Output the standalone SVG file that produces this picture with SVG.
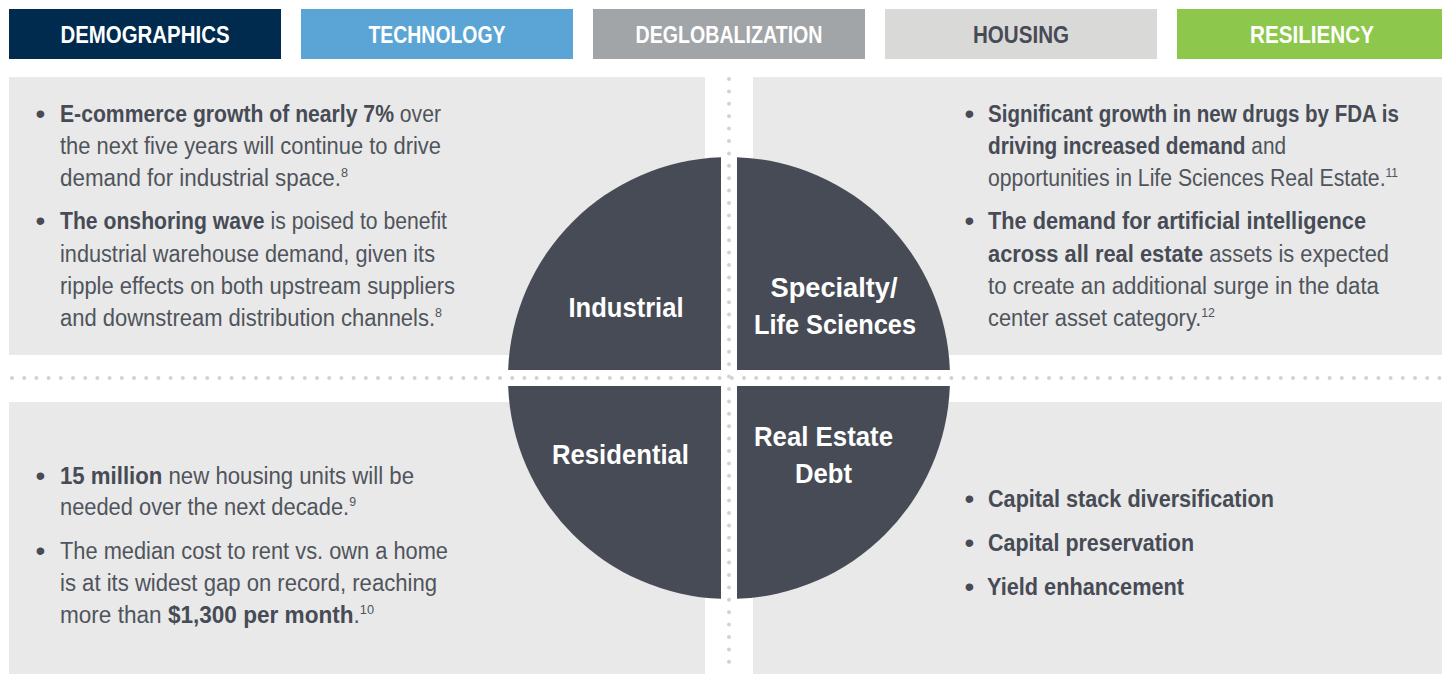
<svg xmlns="http://www.w3.org/2000/svg" width="1442" height="674" viewBox="0 0 1442 674">
<style>
text{font-family:"Liberation Sans",Arial,sans-serif}
.hdr{font-size:23px;font-weight:bold;fill:#fff;text-anchor:middle}
.panel{fill:#E8E9E8}
.quad{fill:#474B55}
.ql{font-size:28px;font-weight:bold;fill:#fff;text-anchor:middle}
.body{font-size:23px;fill:#50545C}
.b{font-weight:bold;fill:#474B55}
.bul{font-size:28px;fill:#474B55}
.sup{font-size:13px}
.dots{stroke:#D1D2D3;stroke-width:4;stroke-linecap:round;fill:none}
</style>
<rect width="1442" height="674" fill="#fff"/>
<g id="headers">
<g id="h-demographics"><rect x="9" y="9" width="272" height="50" fill="#002A4E"/><text class="hdr" x="145" y="42.5" textLength="169" lengthAdjust="spacingAndGlyphs">DEMOGRAPHICS</text></g>
<g id="h-technology"><rect x="301" y="9" width="272" height="50" fill="#5BA5D6"/><text class="hdr" x="437" y="42.5" textLength="137" lengthAdjust="spacingAndGlyphs">TECHNOLOGY</text></g>
<g id="h-deglobalization"><rect x="593" y="9" width="272" height="50" fill="#A2A5A8"/><text class="hdr" x="729" y="42.5" textLength="187" lengthAdjust="spacingAndGlyphs">DEGLOBALIZATION</text></g>
<g id="h-housing"><rect x="885" y="9" width="272" height="50" fill="#D9D9D8"/><text class="hdr" x="1021" y="42.5" style="fill:#474B55" textLength="96" lengthAdjust="spacingAndGlyphs">HOUSING</text></g>
<g id="h-resiliency"><rect x="1177" y="9" width="272" height="50" fill="#8DC74B"/><text class="hdr" x="1312" y="42.5" textLength="124" lengthAdjust="spacingAndGlyphs">RESILIENCY</text></g>
</g>
<g id="panels">
<rect class="panel" x="9" y="77" width="696" height="278"/>
<rect class="panel" x="753" y="77" width="689" height="278"/>
<rect class="panel" x="9" y="402" width="696" height="272"/>
<rect class="panel" x="753" y="402" width="689" height="272"/>
</g>
<g id="text-industrial">
<text class="bul" x="35.5" y="123">•</text>
<text class="body" x="60" y="122" textLength="381" lengthAdjust="spacingAndGlyphs"><tspan class="b">E-commerce growth of nearly 7%</tspan> over</text>
<text class="body" x="60" y="154" textLength="381" lengthAdjust="spacingAndGlyphs">the next five years will continue to drive</text>
<text class="body" x="60" y="186" textLength="288" lengthAdjust="spacingAndGlyphs">demand for industrial space.<tspan class="sup" dy="-9">8</tspan></text>
<text class="bul" x="35.5" y="230">•</text>
<text class="body" x="60" y="229" textLength="387" lengthAdjust="spacingAndGlyphs"><tspan class="b">The onshoring wave</tspan> is poised to benefit</text>
<text class="body" x="60" y="261.5" textLength="375" lengthAdjust="spacingAndGlyphs">industrial warehouse demand, given its</text>
<text class="body" x="60" y="293.5" textLength="395" lengthAdjust="spacingAndGlyphs">ripple effects on both upstream suppliers</text>
<text class="body" x="60" y="325.5" textLength="382" lengthAdjust="spacingAndGlyphs">and downstream distribution channels.<tspan class="sup" dy="-9">8</tspan></text>
</g>
<g id="text-specialty">
<text class="bul" x="964.5" y="123">•</text>
<text class="body" x="988" y="122" textLength="411" lengthAdjust="spacingAndGlyphs"><tspan class="b">Significant growth in new drugs by FDA is</tspan></text>
<text class="body" x="988" y="154" textLength="298" lengthAdjust="spacingAndGlyphs"><tspan class="b">driving increased demand</tspan> and</text>
<text class="body" x="988" y="186" textLength="410" lengthAdjust="spacingAndGlyphs">opportunities in Life Sciences Real Estate.<tspan class="sup" dy="-9">11</tspan></text>
<text class="bul" x="964.5" y="230">•</text>
<text class="body" x="988" y="229" textLength="378" lengthAdjust="spacingAndGlyphs"><tspan class="b">The demand for artificial intelligence</tspan></text>
<text class="body" x="988" y="261.5" textLength="401" lengthAdjust="spacingAndGlyphs"><tspan class="b">across all real estate</tspan> assets is expected</text>
<text class="body" x="988" y="293.5" textLength="391" lengthAdjust="spacingAndGlyphs">to create an additional surge in the data</text>
<text class="body" x="988" y="325.5" textLength="227" lengthAdjust="spacingAndGlyphs">center asset category.<tspan class="sup" dy="-9">12</tspan></text>
</g>
<g id="text-residential">
<text class="bul" x="35.5" y="484.5">•</text>
<text class="body" x="60" y="483.5" textLength="354" lengthAdjust="spacingAndGlyphs"><tspan class="b">15 million</tspan> new housing units will be</text>
<text class="body" x="60" y="515" textLength="296" lengthAdjust="spacingAndGlyphs">needed over the next decade.<tspan class="sup" dy="-9">9</tspan></text>
<text class="bul" x="35.5" y="560">•</text>
<text class="body" x="60" y="559" textLength="388" lengthAdjust="spacingAndGlyphs">The median cost to rent vs. own a home</text>
<text class="body" x="60" y="591" textLength="377" lengthAdjust="spacingAndGlyphs">is at its widest gap on record, reaching</text>
<text class="body" x="60" y="623" textLength="314" lengthAdjust="spacingAndGlyphs">more than <tspan class="b">$1,300 per month</tspan>.<tspan class="sup" dy="-9">10</tspan></text>
</g>
<g id="text-debt">
<text class="bul" x="964.5" y="508">•</text>
<text class="body" x="988" y="507" textLength="286" lengthAdjust="spacingAndGlyphs"><tspan class="b">Capital stack diversification</tspan></text>
<text class="bul" x="964.5" y="552">•</text>
<text class="body" x="988" y="551" textLength="206" lengthAdjust="spacingAndGlyphs"><tspan class="b">Capital preservation</tspan></text>
<text class="bul" x="964.5" y="596">•</text>
<text class="body" x="987" y="595" textLength="197" lengthAdjust="spacingAndGlyphs"><tspan class="b">Yield enhancement</tspan></text>
</g>
<g id="node-industrial">
<path class="quad" d="M721,370 V157.14 A221,221 0 0 0 508.14,370 Z"/>
<text class="ql" x="626" y="317" textLength="115" lengthAdjust="spacingAndGlyphs">Industrial</text>
</g>
<g id="node-specialty">
<path class="quad" d="M737,370 H949.86 A221,221 0 0 0 737,157.14 Z"/>
<text class="ql" x="834" y="297" textLength="127" lengthAdjust="spacingAndGlyphs">Specialty/</text>
<text class="ql" x="835" y="334" textLength="162" lengthAdjust="spacingAndGlyphs">Life Sciences</text>
</g>
<g id="node-residential">
<path class="quad" d="M721,386 H508.14 A221,221 0 0 0 721,598.86 Z"/>
<text class="ql" x="620.5" y="464" textLength="137" lengthAdjust="spacingAndGlyphs">Residential</text>
</g>
<g id="node-debt">
<path class="quad" d="M737,386 V598.86 A221,221 0 0 0 949.86,386 Z"/>
<text class="ql" x="823.5" y="446" textLength="139" lengthAdjust="spacingAndGlyphs">Real Estate</text>
<text class="ql" x="823.5" y="483" textLength="57" lengthAdjust="spacingAndGlyphs">Debt</text>
</g>
<g id="connectors">
<line class="dots" x1="12" y1="378" x2="1442" y2="378" stroke-dasharray="0 12.2"/>
<line class="dots" x1="729" y1="79" x2="729" y2="674" stroke-dasharray="0 12.4"/>
</g>
</svg>
